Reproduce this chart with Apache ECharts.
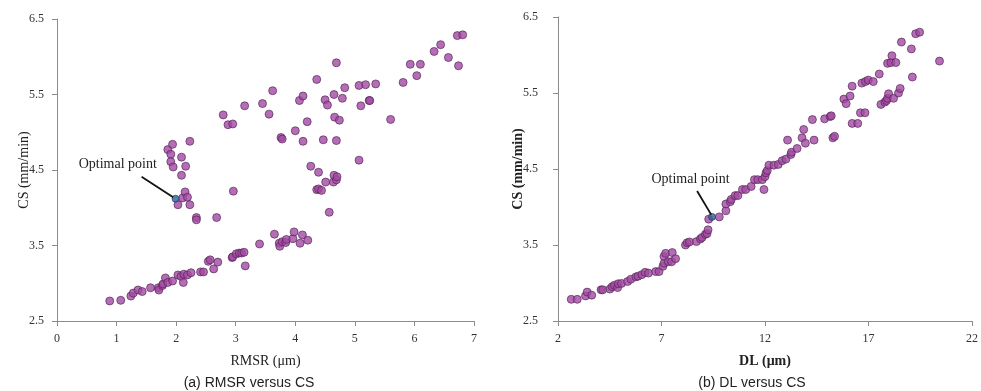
<!DOCTYPE html>
<html>
<head>
<meta charset="utf-8">
<script src="https://cdn.jsdelivr.net/npm/echarts@6/dist/echarts.min.js"></script>
<style>
  html, body { margin: 0; padding: 0; background: #fff; }
  #chart { width: 981px; height: 391px; }
</style>
</head>
<body>
<div id="chart"></div>
<script>
// (a) RMSR (µm) vs cutting speed CS (mm/min)
const rmsrX = [0.885,1.07,1.24,1.28,1.36,1.43,1.57,1.70,1.71,1.77,1.78,1.82,1.86,1.94,2.03,2.08,2.12,2.13,2.19,2.25,2.41,2.46,2.54,2.57,2.63,2.70,2.94,2.95,3.01,3.06,3.10,3.14,3.16,3.40,3.65,3.73,3.74,3.78,3.84,3.85,3.96,3.98,4.08,4.12,4.21,
  1.86,1.94,1.91,1.91,1.95,2.09,2.09,2.16,2.23,2.03,2.11,2.15,2.19,2.23,2.34,2.34,2.68,2.96,
  2.79,2.87,2.95,3.15,3.45,3.56,3.62,3.76,3.78,4.00,4.07,4.13,4.13,4.20,4.26,4.36,4.39,4.36,4.39,4.44,4.47,4.50,4.54,4.51,4.57,4.64,4.65,4.66,4.65,4.69,4.70,4.69,4.69,4.74,4.79,4.83,5.07,5.07,5.10,5.18,5.24,5.25,5.35,5.60,5.81,5.93,6.04,6.10,6.33,6.44,6.57,6.72,6.81,6.74];
const rmsrCS = [2.765,2.774,2.83,2.87,2.91,2.89,2.94,2.94,2.91,2.97,2.99,3.07,3.01,3.03,3.11,3.09,3.01,3.12,3.11,3.14,3.15,3.15,3.29,3.31,3.19,3.28,3.34,3.35,3.39,3.40,3.40,3.41,3.23,3.52,3.65,3.53,3.49,3.55,3.54,3.58,3.59,3.68,3.53,3.64,3.57,
  4.77,4.84,4.71,4.61,4.54,4.67,4.43,4.55,4.88,4.04,4.13,4.21,4.14,4.04,3.87,3.84,3.87,4.22,
  5.23,5.10,5.11,5.35,5.38,5.24,5.55,4.93,4.91,5.02,5.42,5.48,4.88,5.14,4.55,5.70,4.47,4.24,4.25,4.23,4.90,5.43,5.36,4.34,3.94,4.34,5.50,5.20,4.43,4.37,4.41,5.92,4.89,5.16,5.45,5.59,5.62,4.63,5.35,5.63,5.42,5.42,5.64,5.17,5.66,5.90,5.75,5.90,6.07,6.16,5.99,6.28,6.29,5.88];

// (b) DL (µm) vs cutting speed CS (mm/min)
const dlX = [2.64,2.93,3.33,3.41,3.63,4.08,4.16,4.51,4.61,4.72,4.88,4.91,5.07,5.36,5.52,5.76,5.87,6.05,6.21,6.37,6.72,6.88,7.07,7.12,7.12,7.20,7.33,7.49,7.52,7.68,8.16,8.24,8.35,8.69,8.88,8.96,9.12,9.20,9.25,9.28,
  9.79,10.11,10.11,10.32,10.37,10.56,10.69,10.91,11.07,11.33,11.49,11.65,11.87,11.95,12.00,12.05,12.11,12.19,12.43,12.64,12.83,13.01,13.09,13.25,13.28,13.55,13.79,13.87,13.95,14.37,14.29,14.88,15.15,15.20,15.28,15.36,
  15.81,15.92,16.11,16.21,16.21,16.48,16.61,16.68,16.83,16.85,16.99,17.23,17.52,17.60,17.79,17.87,17.92,17.97,17.92,18.08,18.13,18.21,18.32,18.45,18.53,18.59,19.07,19.12,19.28,19.47,20.43];
const dlCS = [2.785,2.785,2.83,2.88,2.84,2.91,2.91,2.92,2.95,2.97,2.94,2.99,2.995,3.02,3.05,3.08,3.09,3.11,3.14,3.13,3.15,3.15,3.22,3.26,3.35,3.39,3.28,3.28,3.40,3.32,3.50,3.53,3.54,3.545,3.58,3.60,3.64,3.65,3.70,3.84,
  3.87,3.95,4.04,4.07,4.10,4.15,4.15,4.23,4.23,4.27,4.36,4.36,4.36,4.23,4.40,4.45,4.48,4.55,4.55,4.56,4.61,4.63,4.88,4.69,4.72,4.77,4.91,5.02,4.84,4.88,5.15,5.16,5.19,5.20,4.91,4.93,
  5.42,5.36,5.46,5.59,5.10,5.10,5.24,5.63,5.24,5.65,5.67,5.65,5.75,5.35,5.38,5.40,5.43,5.49,5.89,5.90,5.99,5.43,5.90,5.50,5.56,6.17,6.08,5.71,6.28,6.30,5.92];

// Optimal operating point on each panel
const optimalA = [1.99, 4.12];
const optimalB = [9.44, 3.87];
const annotationText = 'Optimal point';
// Arrow start / end and label anchor for each panel (data units)
const arrowA = [[1.42, 4.41], [1.95, 4.14]];
const labelA = [1.02, 4.58];
const arrowB = [[8.72, 4.21], [9.40, 3.90]];
const labelB = [8.40, 4.37];

const xTitleA = 'RMSR (μm)';
const xTitleB = 'DL (μm)';
const yTitle = 'CS (mm/min)';
const captionA = '(a) RMSR versus CS';
const captionB = '(b) DL versus CS';

const zip = (xs, ys) => xs.map((x, i) => [x, ys[i]]);

const serif = 'Liberation Serif';
const axisGray = '#8c8c8c';
const purple = '#a24aa3';
const purpleEdge = '#4d1f4e';

function valueAxis(gridIndex, min, max, interval, name, bold, isY, gap, labelMargin) {
  return {
    type: 'value', gridIndex, min, max, interval,
    name, nameLocation: 'middle',
    nameGap: gap,
    nameMoveOverlap: false,
    nameTextStyle: { fontFamily: serif, fontSize: 14, color: '#222', fontWeight: bold ? 'bold' : 'normal' },
    axisLine: { show: true, lineStyle: { color: axisGray, width: 1 } },
    axisTick: { show: true, length: 5, lineStyle: { color: axisGray } },
    axisLabel: { fontFamily: serif, fontSize: 12, color: '#333', margin: labelMargin,
      formatter: v => isY ? v.toFixed(1) : String(v) },
    splitLine: { show: false }
  };
}

function scatter(xi, yi, data) {
  return {
    type: 'scatter', xAxisIndex: xi, yAxisIndex: yi, data,
    symbolSize: 8,
    itemStyle: { color: purple, borderColor: purpleEdge, borderWidth: 0.8 },
    z: 2
  };
}

function optimal(xi, yi, pt, arrow, label) {
  return {
    type: 'scatter', xAxisIndex: xi, yAxisIndex: yi, data: [pt],
    symbolSize: 7,
    itemStyle: { color: '#2f5f95', borderColor: '#1d3558', borderWidth: 0.8 },
    z: 4,
    markLine: {
      silent: true, symbol: ['none', 'arrow'], symbolSize: [0, 11],
      lineStyle: { color: '#111', width: 1.8, type: 'solid' },
      label: { show: false },
      data: [[{ coord: arrow[0] }, { coord: arrow[1] }]]
    },
    markPoint: {
      silent: true, symbol: 'circle', symbolSize: 0,
      label: { show: true, position: 'inside', formatter: annotationText,
        fontFamily: serif, fontSize: 14, color: '#222' },
      data: [{ coord: label }]
    }
  };
}

const chart = echarts.init(document.getElementById('chart'), null, { renderer: 'canvas' });
chart.setOption({
  animation: false,
  backgroundColor: '#fff',
  grid: [
    { left: 57, right: 507, top: 19, bottom: 70 },
    { left: 558, right: 6, top: 17, bottom: 70 }
  ],
  xAxis: [
    valueAxis(0, 0, 7, 1, xTitleA, false, false, 33, 12),
    valueAxis(1, 2, 22, 5, xTitleB, true, false, 33, 12)
  ],
  yAxis: [
    valueAxis(0, 2.5, 6.5, 1, yTitle, false, true, 26, 13),
    valueAxis(1, 2.5, 6.5, 1, yTitle, true, true, 33, 20)
  ],
  title: [
    { text: captionA, left: 244, top: 371, textAlign: 'center',
      textStyle: { fontFamily: 'Liberation Sans', fontSize: 14, fontWeight: 'normal', color: '#222' } },
    { text: captionB, left: 747, top: 371, textAlign: 'center',
      textStyle: { fontFamily: 'Liberation Sans', fontSize: 14, fontWeight: 'normal', color: '#222' } }
  ],
  series: [
    scatter(0, 0, zip(rmsrX, rmsrCS)),
    scatter(1, 1, zip(dlX, dlCS)),
    optimal(0, 0, optimalA, arrowA, labelA),
    optimal(1, 1, optimalB, arrowB, labelB)
  ]
});
</script>
</body>
</html>
